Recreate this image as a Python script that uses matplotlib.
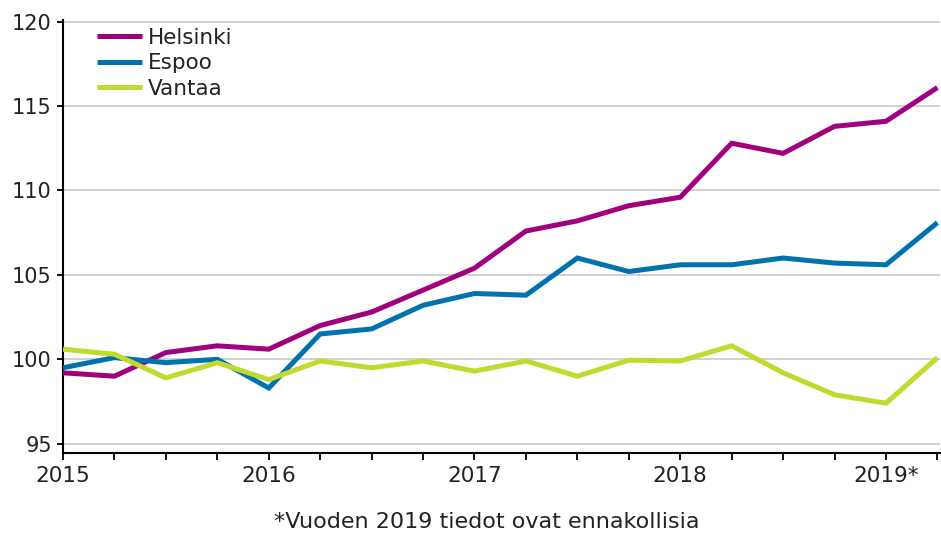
import matplotlib
matplotlib.use("Agg")
import matplotlib.pyplot as plt
from matplotlib.ticker import FixedLocator, NullFormatter

quarters = list(range(18))  # 2015Q1 .. 2019Q2
year_ticks = [0, 4, 8, 12, 16]
year_labels = ["2015", "2016", "2017", "2018", "2019*"]

helsinki = [99.2, 99.0, 100.4, 100.8, 100.6, 102.0, 102.8, 104.1, 105.4,
            107.6, 108.2, 109.1, 109.6, 112.8, 112.2, 113.8, 114.1, 116.1]
espoo = [99.5, 100.1, 99.8, 100.0, 98.3, 101.5, 101.8, 103.2, 103.9,
         103.8, 106.0, 105.2, 105.6, 105.6, 106.0, 105.7, 105.6, 108.1]
vantaa = [100.6, 100.3, 98.9, 99.8, 98.8, 99.9, 99.5, 99.9, 99.3,
          99.9, 99.0, 99.95, 99.9, 100.8, 99.2, 97.9, 97.4, 100.1]

series = [("Helsinki", helsinki, "#A0007E"),
          ("Espoo", espoo, "#0072B0"),
          ("Vantaa", vantaa, "#C3D92E")]

footnote = "*Vuoden 2019 tiedot ovat ennakollisia"

FS = 15.5
fig = plt.figure(figsize=(9.41, 5.36), dpi=100)
ax = fig.add_axes([63 / 941, 1 - 453 / 536, (940 - 63) / 941, (453 - 20) / 536])

for name, vals, col in series:
    ax.plot(quarters, vals, color=col, lw=3.6, label=name, solid_joinstyle="miter",
            solid_capstyle="butt", zorder=3)

ax.set_xlim(0, 17.05)
ax.set_ylim(94.45, 120.1)
ax.set_yticks([95, 100, 105, 110, 115, 120])
ax.yaxis.grid(True, color="#c8c8c8", lw=1.2)
ax.set_axisbelow(True)

ax.xaxis.set_major_locator(FixedLocator(quarters))
ax.xaxis.set_major_formatter(NullFormatter())
for t, lab in zip(year_ticks, year_labels):
    ax.text(t, -0.03, lab, transform=ax.get_xaxis_transform(), ha="center", va="top",
            fontsize=FS, color="#222222")

for s in ["top", "right"]:
    ax.spines[s].set_visible(False)
ax.spines["left"].set_linewidth(1.5)
ax.spines["bottom"].set_linewidth(1.5)
ax.tick_params(axis="x", length=5, width=1.3, direction="out")
ax.tick_params(axis="y", length=4, width=1.3, direction="out", labelsize=15,
               labelcolor="#222222", pad=4)

leg = ax.legend(loc="upper left", bbox_to_anchor=(0.039, 0.982), frameon=True,
                fontsize=FS, handlelength=2.1, handletextpad=0.25, labelspacing=0.26,
                borderpad=0.0, borderaxespad=0)
leg.get_frame().set_edgecolor("white")
leg.get_frame().set_facecolor("white")
leg.get_frame().set_alpha(1)
for t in leg.get_texts():
    t.set_color("#222222")

fig.text(487 / 941, 1 - 522 / 536, footnote, ha="center", va="center", fontsize=16,
         color="#222222")

fig.savefig("out.png", dpi=100)
